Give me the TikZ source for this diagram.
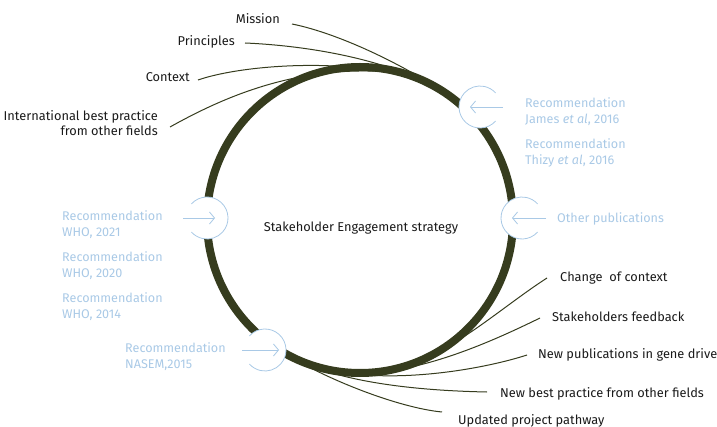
\documentclass[tikz,border=0pt]{standalone}
\usepackage{fontspec}
\setmainfont{Fira Sans}
\usetikzlibrary{arrows.meta}
\definecolor{ringc}{HTML}{363C1E}
\definecolor{lblue}{HTML}{A9C9E6}
\definecolor{ink}{HTML}{1A1A1A}
\begin{document}
\begin{tikzpicture}[x=1pt,y=-1pt,
  strand/.style={draw=ringc,line width=1pt},
  bigring/.style={draw=ringc,line width=8pt},
  lab/.style={font=\fontsize{12.8}{15}\selectfont,text=ink,inner sep=0pt},
  rec/.style={font=\fontsize{12.6}{16}\selectfont,text=lblue,inner sep=0pt,align=left,anchor=west},
  smallc/.style={draw=lblue,line width=0.8pt},
  inarrow/.style={draw=lblue,line width=0.8pt,-{Straight Barb[length=5pt,width=12pt]}}]
\useasboundingbox (0,0) rectangle (717,427);
% ring coordinates
\coordinate (c) at (360,220);
% --- top strands ---
\coordinate (m0) at (292,24);
\coordinate (p0) at (245,43);
\coordinate (x0) at (198,80);
\coordinate (i0) at (170,127);
\coordinate (mE) at (454,99);
\coordinate (pE) at (450,96);
\coordinate (xE) at (446,93);
\coordinate (iE) at (400,73);
\draw[strand] (m0) .. controls (342,34) and (412,69) .. (mE);
\draw[strand] (p0) .. controls (315,46) and (400,62) .. (pE);
\draw[strand] (x0) .. controls (250,62) and (385,55) .. (xE);
\draw[strand] (i0) .. controls (222,98) and (300,62) .. (iE);
% --- bottom strands ---
\coordinate (ch0) at (547,278);
\coordinate (sf0) at (540,318);
\coordinate (np0) at (527,355);
\coordinate (nb0) at (487,392);
\coordinate (up0) at (442,412);
\coordinate (chE) at (412,364);
\coordinate (sfE) at (373,373);
\coordinate (npE) at (334,371);
\coordinate (nbE) at (300,361);
\coordinate (upE) at (281,351);
\draw[strand] (ch0) .. controls (505,305) and (459,347) .. (chE);
\draw[strand] (sf0) .. controls (495,340) and (433,368) .. (sfE);
\draw[strand] (np0) .. controls (487,368) and (402,384) .. (npE);
\draw[strand] (nb0) .. controls (437,391) and (352,386) .. (nbE);
\draw[strand] (up0) .. controls (400,408) and (326,380) .. (upE);
% --- main ring ---
\draw[bigring] (c) circle[radius=153];
\node[lab] (centre) at (361,228) {Stakeholder Engagement strategy};
% --- small inlet circles ---
\foreach \n/\px/\py in {a/480/107,b/522/218,d/207/218,e/265/350}{
  \fill[white] (\px,\py) circle[radius=21];
  \coordinate (s\n) at (\px,\py);
}
\draw[smallc] (sa) ++(42:21) arc[start angle=42,end angle=318,radius=21];
\draw[smallc] (sb) ++(42:21) arc[start angle=42,end angle=318,radius=21];
\draw[smallc] (sd) ++(-138:21) arc[start angle=-138,end angle=138,radius=21];
\draw[smallc] (se) ++(-138:21) arc[start angle=-138,end angle=138,radius=21];
\coordinate (aa0) at (503,107); \coordinate (aa1) at (470,107);
\coordinate (ab0) at (546,218); \coordinate (ab1) at (512,218);
\coordinate (ad0) at (183,218); \coordinate (ad1) at (215,218);
\coordinate (ae0) at (242,350); \coordinate (ae1) at (279,350);
\draw[inarrow] (aa0) -- (aa1);
\draw[inarrow] (ab0) -- (ab1);
\draw[inarrow] (ad0) -- (ad1);
\draw[inarrow] (ae0) -- (ae1);
% --- blue labels ---
\node[rec] (james) at (525,112) {Recommendation\\James \textit{et al}, 2016};
\node[rec] (thizy) at (525,153) {Recommendation\\Thizy \textit{et al}, 2016};
\node[rec] (other) at (557,219) {Other publications};
\node[rec] (who21) at (62,225) {Recommendation\\WHO, 2021};
\node[rec] (who20) at (62,266) {Recommendation\\WHO, 2020};
\node[rec] (who14) at (62,307) {Recommendation\\WHO, 2014};
\node[rec] (nasem) at (125,357) {Recommendation\\NASEM,2015};
% --- black labels ---
\node[lab,anchor=base east] (mission) at (280,24) {Mission};
\node[lab,anchor=base east] (princ) at (235,46) {Principles};
\node[lab,anchor=base east] (context) at (190,82) {Context};
\node[lab,anchor=east,align=right,font=\fontsize{12.8}{15}\selectfont] (intl) at (158,123) {International best practice\\from other fields};
\node[lab,anchor=base west] (change) at (560,282) {Change\ \ of context};
\node[lab,anchor=base west] (stake) at (552,322) {Stakeholders feedback};
\node[lab,anchor=base west] (newpub) at (538,359) {New publications in gene drive};
\node[lab,anchor=base west] (newbest) at (500,397) {New best practice from other fields};
\node[lab,anchor=base west] (upd) at (458,424) {Updated project pathway};
\end{tikzpicture}
\end{document}
